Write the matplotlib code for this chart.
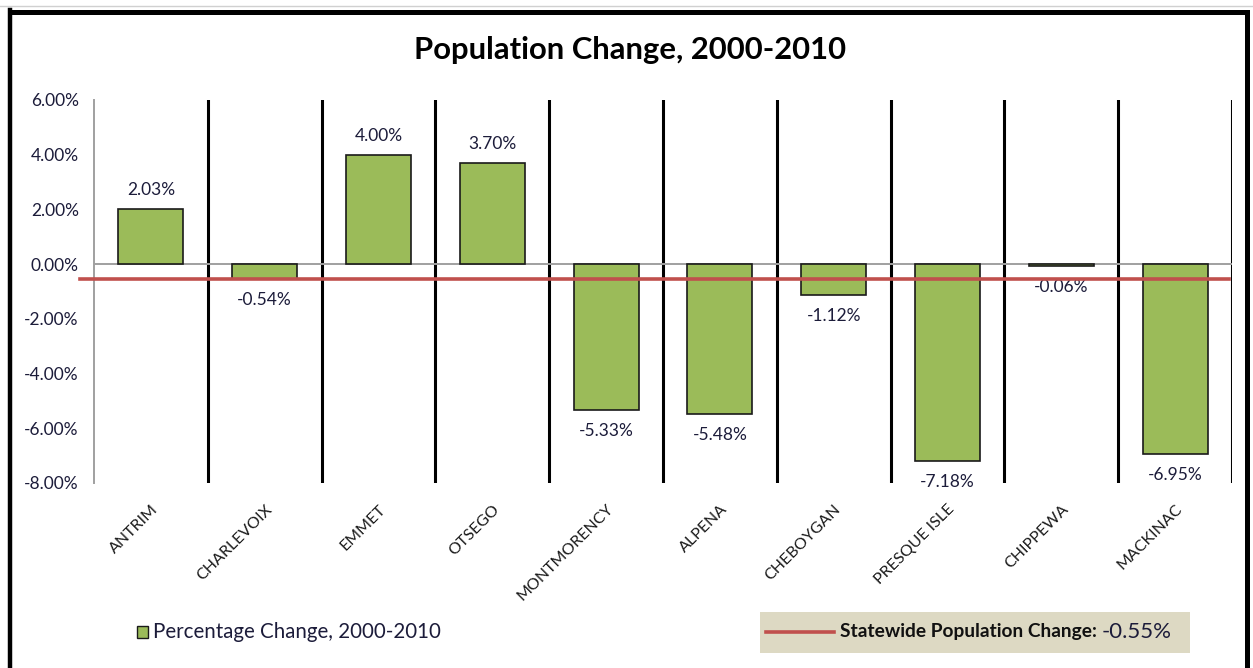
import matplotlib
matplotlib.use("Agg")
import matplotlib.pyplot as plt
from matplotlib.lines import Line2D
from matplotlib.patches import Rectangle

counties = ["ANTRIM", "CHARLEVOIX", "EMMET", "OTSEGO", "MONTMORENCY",
            "ALPENA", "CHEBOYGAN", "PRESQUE ISLE", "CHIPPEWA", "MACKINAC"]
pct_change = [2.03, -0.54, 4.00, 3.70, -5.33, -5.48, -1.12, -7.18, -0.06, -6.95]
statewide = -0.55
yticks = [6, 4, 2, 0, -2, -4, -6, -8]
title = "Population Change, 2000-2010"
series_label = "Percentage Change, 2000-2010"
state_label = "Statewide Population Change:"

W, H = 1253, 668
FONT = "Lato"
plt.rcParams['font.family'] = [FONT, 'DejaVu Sans']
fig = plt.figure(figsize=(W / 100, H / 100), dpi=100)

def fx(px):
    return px / W

def fy(py):
    return 1 - py / H

ax = fig.add_axes([fx(94), fy(483), fx(1232) - fx(94), fy(100) - fy(483)])
x = list(range(len(counties)))
ax.bar(x, pct_change, width=0.57, color="#9BBB59", edgecolor="#1a1a1a",
       linewidth=1.2, zorder=3)
ax.set_xlim(-0.5, len(counties) - 0.5)
ax.set_ylim(-8, 6)

# zero line
ax.axhline(0, color="#a0a0a0", lw=1.4, zorder=2)
# category separators
for i in range(1, len(counties) + 1):
    ax.axvline(i - 0.5, color="black", lw=2.2, zorder=1)

# statewide line
ax.plot([-0.62, len(counties) - 0.53], [statewide, statewide],
        color="#C0504D", lw=2.6, zorder=4, clip_on=False)

for s in ["top", "right", "bottom"]:
    ax.spines[s].set_visible(False)
ax.spines["left"].set_color("#a0a0a0")
ax.spines["left"].set_linewidth(1.4)

ax.set_yticks(yticks)
ax.set_yticklabels([f"{v:.2f}%" for v in yticks], fontsize=12.5, color="#1c1c3a")
ax.tick_params(axis="y", length=0, pad=11)
ax.set_xticks(x)
ax.set_xticklabels([])
ax.tick_params(axis="x", length=0)

for i, c in enumerate(counties):
    ax.annotate(c, xy=(i, -8), xytext=(5, -24), textcoords="offset pixels",
                rotation=45, rotation_mode="anchor", ha="right", va="center",
                fontsize=11.5, color="#1a1a1a")

for i, v in enumerate(pct_change):
    if v >= 0:
        ax.annotate(f"{v:.2f}%", xy=(i, v), xytext=(0, 11), textcoords="offset pixels",
                    ha="center", va="bottom", fontsize=12.5, color="#1c1c3a")
    else:
        ax.annotate(f"{v:.2f}%", xy=(i, v), xytext=(0, -13), textcoords="offset pixels",
                    ha="center", va="top", fontsize=12.5, color="#1c1c3a")

# title
fig.text(fx(630), fy(50), title, ha="center", va="center", fontsize=22.3,
         fontweight="bold", color="black")

# left legend
fig.add_artist(Rectangle((fx(137), fy(638)), fx(148) - fx(137), fy(626) - fy(638),
                         transform=fig.transFigure, facecolor="#9BBB59",
                         edgecolor="#1a1a1a", lw=1.0))
fig.text(fx(153), fy(632), series_label, ha="left", va="center", fontsize=14.8,
         color="#1c1c3a")

# right legend box
fig.add_artist(Rectangle((fx(760), fy(653)), fx(1190) - fx(760), fy(612) - fy(653),
                         transform=fig.transFigure, facecolor="#DDD9C3",
                         edgecolor="none"))
fig.add_artist(Line2D([fx(766), fx(834)], [fy(632), fy(632)], transform=fig.transFigure,
                      color="#C0504D", lw=2.6))
t1 = fig.text(fx(840), fy(632), state_label, ha="left", va="center", fontsize=13.8,
              fontweight="bold", color="#111111")
fig.canvas.draw()
bb = t1.get_window_extent()
fig.text((bb.x1 + 5) / W, fy(632), f"{statewide:.2f}%", ha="left", va="center",
         fontsize=16, color="#1c1c3a")

# outer chart frame and spreadsheet line
fig.add_artist(Line2D([0, 1], [fy(6), fy(6)], transform=fig.transFigure,
                      color="#d0d0d0", lw=1.0))
fig.add_artist(Line2D([fx(10), fx(10)], [0, fy(10)], transform=fig.transFigure,
                      color="black", lw=3.2, solid_capstyle="projecting"))
fig.add_artist(Line2D([fx(10), fx(1247)], [fy(11.5), fy(11.5)], transform=fig.transFigure,
                      color="black", lw=3.6, solid_capstyle="projecting"))
fig.add_artist(Line2D([fx(1247), fx(1247)], [0, fy(11.5)], transform=fig.transFigure,
                      color="black", lw=3.6, solid_capstyle="projecting"))

fig.savefig("out.png", dpi=100)
